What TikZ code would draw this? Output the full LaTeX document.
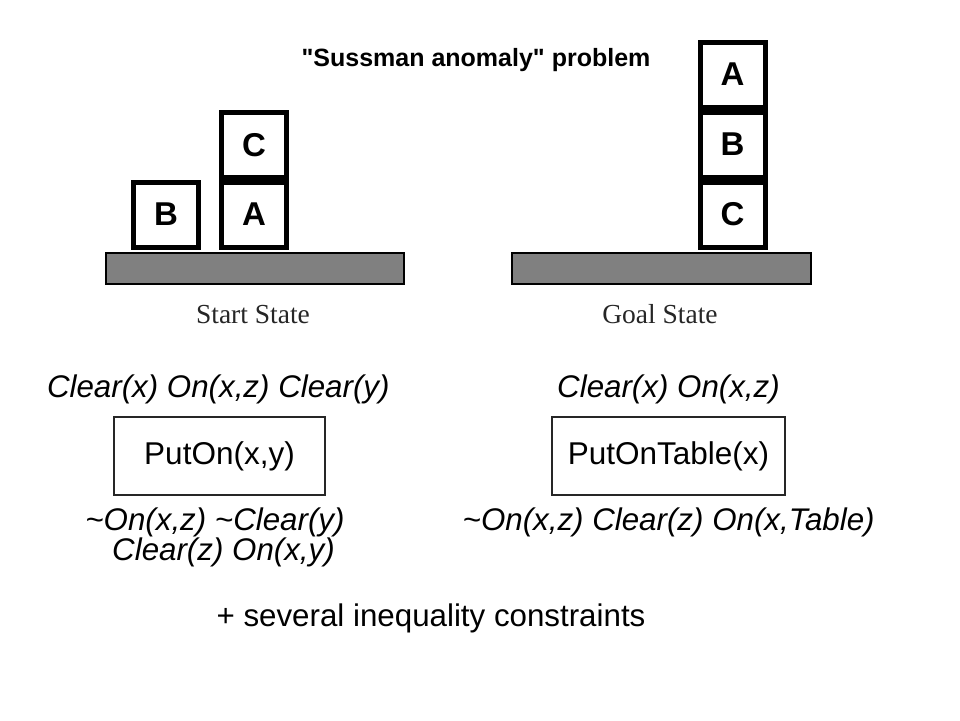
\documentclass[tikz,border=0pt]{standalone}
\usepackage{fontspec}
\setmainfont{Liberation Sans}
\newfontfamily\serifcap{Liberation Serif}
\newfontfamily\titlefont{Liberation Sans}[Ligatures=TeXOff]
\begin{document}
\begin{tikzpicture}[x=1pt,y=-1pt,
  blk/.style={draw=black,line width=5pt,fill=white,minimum width=65pt,minimum height=65pt,inner sep=0pt,font=\fontsize{33}{33}\selectfont\bfseries},
  tbl/.style={draw=black,line width=2pt,fill=black!50,inner sep=0pt,minimum height=31pt},
  statecap/.style={anchor=base,inner sep=0pt,text=black!85,font=\fontsize{27.5}{27.5}\serifcap},
  cond/.style={anchor=base,inner sep=0pt,font=\fontsize{31.3}{31.3}\selectfont\itshape},
  opbox/.style={draw=black!85,line width=1.3pt,inner sep=0pt,minimum height=78pt,font=\fontsize{31.5}{31.5}\selectfont},
  plain/.style={anchor=base,inner sep=0pt,font=\fontsize{31.3}{31.3}\selectfont}]
\useasboundingbox (0,0) rectangle (960,720);
% title
\node[anchor=base,inner sep=0pt,font=\fontsize{25}{25}\titlefont\bfseries] (title) at (476,66) {"Sussman anomaly" problem};
% start state
\node[tbl,minimum width=298pt] (tblS) at (255,268) {};
\node[blk] (sB) at (166,214.5) {B};
\node[blk] (sA) at (254,214.5) {A};
\node[blk] (sC) at (254,145) {C};
\node[statecap] (capS) at (253,323) {Start State};
% goal state
\node[tbl,minimum width=299pt] (tblG) at (661.5,268) {};
\node[blk] (gC) at (732.5,214.5) {C};
\node[blk] (gB) at (732.5,144.5) {B};
\node[blk] (gA) at (732.5,74.5) {A};
\node[statecap] (capG) at (660,323) {Goal State};
% PutOn operator
\node[cond] (preL) at (218.3,397) {Clear(x) On(x,z) Clear(y)};
\node[opbox,minimum width=211pt] (opL) at (219.5,456) {PutOn(x,y)};
\node[cond] (effL1) at (215,530) {\char`\~On(x,z) \char`\~Clear(y)};
\node[cond] (effL2) at (223.5,560) {Clear(z) On(x,y)};
% PutOnTable operator
\node[cond] (preR) at (668.5,397) {Clear(x) On(x,z)};
\node[opbox,minimum width=233pt] (opR) at (668.5,456) {PutOnTable(x)};
\node[cond] (effR) at (668.7,530) {\char`\~On(x,z) Clear(z) On(x,Table)};
% footnote
\node[plain] (note) at (431,626.7) {+ several inequality constraints};
\end{tikzpicture}
\end{document}
